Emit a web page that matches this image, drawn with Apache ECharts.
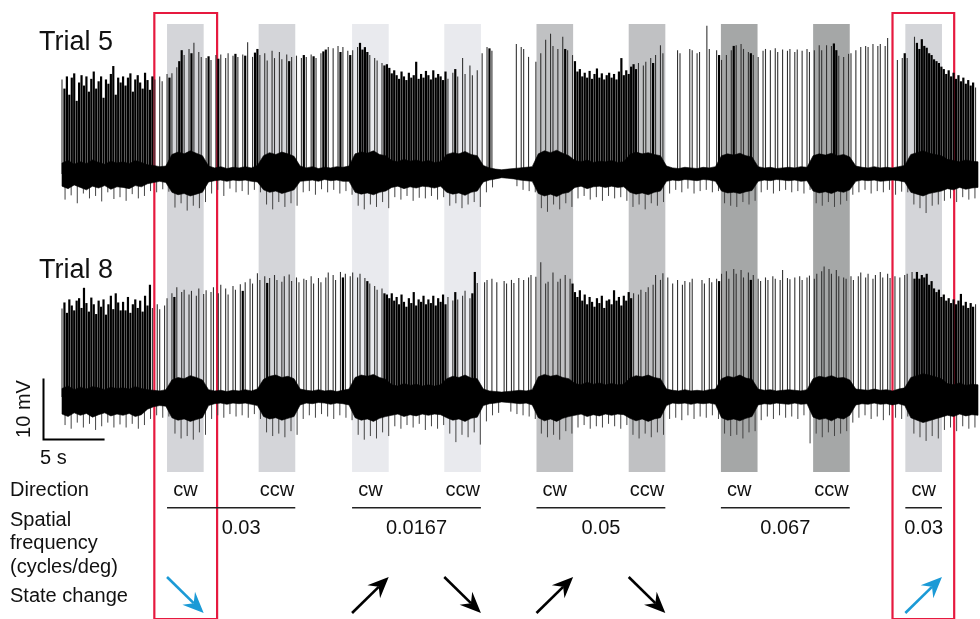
<!DOCTYPE html>
<html><head><meta charset="utf-8">
<script src="https://cdn.jsdelivr.net/npm/echarts@6/dist/echarts.min.js"></script>
<style>html,body{margin:0;padding:0;background:#fff}#c{width:980px;height:619px}</style>
</head><body><div id="c"></div>
<script>
// ---------------- DATA ----------------
// Spike peaks (mV above baseline) on a 0.2 s grid, 0 = no spike; 75 s record
const SPIKE_DT = 0.2;
const trial5Peaks = [
15.5,14,16,13,15.8,16.5,12,15,16.2,14.5,16,13.5,15.6,16.8,14,15.2,16,12.5,15.5,14.8,16.4,17.7,13,15.8,15,
16,14.5,15.8,16.5,13.5,15.5,16.2,15,14,16.6,15.4,13.8,16,15.5,0,16,15.2,0,16.4,15.8,16.5,0,17.5,18.5,20.3,
19.5,0,20.5,19.8,21.5,0,20,19.2,0,19,19.3,18.7,0,19.5,18.9,19.6,0,19,19.8,0,19.4,19.7,19.2,0,19.6,
19.4,21.6,0,19.2,19.9,20.5,19.5,0,19.8,18.6,0,20.2,19,0,20,18.8,0,19.6,18.5,19.2,0,19.4,0,19,19.5,
19.2,0,19.6,19.3,19,0,19.8,20.1,20.4,20.8,0,20.6,0,21,20,20.8,0,20.2,19.5,20.3,0,20.8,21.5,20.4,20.8,
20,19.5,0,19,18.6,0,18.2,17.8,18,17.4,16.5,17,16.2,15.6,16.8,16,15.4,16.6,15.8,16.2,18.4,15.6,16.4,15.8,16.9,
16.2,15.5,17,15.8,16.4,16,15.4,16.8,15.6,0,16.6,17.2,16,0,19,16.4,0,17.8,16.2,0,17,0,19.8,0,20.8,
20.6,20.2,0,0,0,0,0,0,0,0,0,21.3,0,20.8,20.5,0,19.2,0,0,18.4,0,19.8,0,22,0,
23,21,0,20.5,0,22.5,20.5,20.3,0,19.5,18.5,16.8,17.2,16,16.6,15.8,16.9,15.6,16.4,17.3,15.8,16.5,15.5,16.2,16.6,
15.8,16.4,15.5,16.8,19,16.2,17,16.4,17.6,18,17.2,18.2,0,17.8,18.4,0,19,18.2,19.5,0,21.1,19.8,0,0,0,
0,0,20.3,19.8,0,0,0,20.5,20.3,0,19.8,20,0,0,24.3,20.5,0,0,20.3,19.5,18.7,0,19.5,0,20.3,
21,21.1,0,21.3,20.5,0,20,19.8,19.5,0,19.2,0,20.2,20.5,0,20.3,0,20.6,20,0,20.4,0,20.2,20.5,0,
20,20.4,0,20.2,0,20.5,20,0,20.3,0,21.1,20.3,0,21.1,0,21,21.4,20.3,19.4,0,19.2,0,19.7,19.8,0,
20.3,0,20.8,0,21,20.8,0,21.3,0,21,21.3,0,21,22.3,0,0,0,18.7,0,19,19.8,19,0,0,22.5,
21.5,20.5,22.1,21,20.7,19.8,19.5,18.8,18.5,18.2,17.6,17.2,16.4,17,16,16.6,15.6,16.2,15.2,15.8,14.8,15.4,14.5,15,14.2
];
const trial8Peaks = [
14.5,15.5,13.8,16,15,14.2,15.8,16.2,14.6,17.9,15.4,14,16.3,15.2,13.6,15.8,14.8,16,13.5,15.2,16.6,14.4,17,15.5,14.2,
15.6,14.2,16.4,13.8,15.2,16,14.6,15.8,14,16.6,15,18.4,14.6,0,15.2,14.4,0,15,16.2,0,17,16.4,18,0,17.2,
17.6,0,16.8,17.4,0,16.6,17.8,0,16.9,17.5,0,17.2,18,0,17,18.4,0,17.8,16.8,0,18.2,17.6,0,18.5,17.4,
18.8,0,19.4,18.6,0,20.3,19.2,0,19.8,18.7,19.5,0,20,19.2,0,18.9,19.8,0,20.1,19,0,19.6,18.8,0,19.4,
19.2,0,19.8,18.6,0,19.5,18.8,0,19.6,20.4,0,20,19.2,0,20.5,19.6,20.2,0,19.8,20.4,0,19.6,20.2,0,19.5,
19,18.6,0,18.2,17.6,0,17.8,17,16.8,16.2,17,15.8,16.4,15.2,16.8,15.6,14.8,16.2,15.4,17.2,15,16,15.6,16.6,15.2,
16,15.4,16.6,15,16.2,15.6,16.8,15.2,16.4,0,15.8,17.2,16,0,16.6,17.4,0,16.2,17,20.5,18.7,0,0,18.8,19.2,
0,19.4,0,18.8,0,0,19,18.6,0,19.2,18.7,0,19.5,0,19.2,0,19.6,20,0,19.7,0,22.1,0,18.6,18.9,
0,20.4,0,18.9,19.4,0,20,0,19.4,18.6,17.2,16.4,17.5,15.8,16.8,15.2,16.4,15.6,14.8,16.2,15.4,16.6,14.6,15.8,16,
15.2,17.5,15.8,16.4,15,16.6,15.8,17.2,16.2,17,0,16.8,17.6,0,17.2,18,0,18.4,20,0,19.2,20.3,0,19.6,0,
18.6,0,19.2,0,18.4,19,0,18.8,19.4,0,0,0,19.2,18.6,0,19.5,18.8,0,19.4,19,20.2,0,20.6,19.4,0,
21,20.2,0,20.8,19.6,0,20.4,19.2,20,0,19.4,19,0,19.6,19.2,0,19.8,19.4,0,19.2,20.8,0,19.5,19.3,0,
19.6,0,19.8,19.2,0,19.6,19.9,0,19.4,20.2,0,20.6,21.4,0,21,20.2,0,20.8,19.8,0,19.6,19.4,0,19.8,19.2,
0,19.8,20.4,0,19.6,20.2,0,19.4,20,0,20.5,19.6,0,20.2,19.5,0,19.8,0,19.6,0,20,20.2,0,20.5,19.4,
20.5,19.4,20,19.6,20.2,18.4,19,17.8,17.2,17.6,16.4,16.8,15.8,16.2,15.4,16,15.2,15.8,16.9,15,15.6,14.6,15.4,14.8,15.2
];

// Noise band envelope (mV) on a 0.5 s grid, t = 0 .. 75
const BAND_DT = 0.5;
const trial5BandHi = [
1.8,2.2,1.6,2.0,1.7,2.3,1.9,1.6,2.1,1.8,
2.0,1.7,2.2,1.9,1.5,1.4,1.2,1.3,3.2,3.6,
3.3,3.8,3.4,3.0,1.3,1.0,1.2,0.9,1.1,1.0,
1.2,1.0,1.4,3.0,3.5,3.2,3.6,3.3,2.9,1.3,
1.0,1.2,0.9,1.1,1.0,1.2,1.1,1.3,3.3,3.6,
3.4,3.8,3.2,3.0,2.2,2.0,2.4,2.1,2.3,2.0,
2.2,1.9,2.0,3.2,3.5,3.3,3.7,3.2,3.0,1.4,
1.0,0.8,0.7,0.8,0.9,1.0,1.1,1.2,3.3,3.8,
3.5,3.9,3.4,3.0,2.2,2.0,2.3,1.9,2.1,2.0,
2.2,1.9,2.0,3.2,3.6,3.3,3.5,3.2,3.0,1.3,
1.0,0.9,1.1,1.0,0.9,1.1,1.0,1.2,3.0,3.3,
3.1,3.4,3.0,2.8,1.2,1.0,1.1,0.9,1.0,1.1,
1.0,1.2,1.1,3.0,3.3,3.1,3.4,3.0,3.2,2.8,
1.3,1.1,1.0,1.2,1.0,1.1,1.0,1.2,1.4,3.2,
3.5,3.8,3.4,3.2,3.0,2.4,2.2,2.0,2.3,2.1,
2.0
];
const trial5BandLo = [
-2.0,-2.4,-1.8,-2.2,-2.6,-2.0,-2.3,-1.9,-2.5,-2.1,
-2.2,-2.4,-1.9,-2.1,-1.6,-1.4,-1.2,-1.4,-3.0,-3.4,
-3.2,-3.6,-3.3,-3.0,-1.3,-1.1,-1.0,-1.2,-1.0,-1.1,
-1.0,-1.2,-1.3,-2.6,-3.0,-2.8,-3.2,-2.9,-2.6,-1.2,
-1.1,-1.0,-1.2,-0.9,-1.1,-1.0,-1.2,-1.2,-3.0,-3.3,
-3.1,-3.4,-3.0,-2.8,-2.2,-2.0,-2.4,-2.1,-2.3,-2.0,
-2.1,-2.3,-2.0,-3.0,-3.3,-3.1,-3.5,-3.0,-2.8,-1.3,
-1.0,-0.8,-0.6,-0.7,-0.8,-1.0,-1.1,-1.2,-3.2,-3.6,
-3.3,-3.7,-3.2,-3.0,-2.2,-2.0,-2.4,-2.1,-2.0,-2.2,
-2.0,-2.2,-2.1,-3.0,-3.3,-3.1,-3.4,-3.0,-2.8,-1.2,
-1.0,-1.1,-0.9,-1.0,-1.1,-0.9,-1.0,-1.2,-2.8,-3.1,
-3.0,-3.2,-2.9,-2.7,-1.2,-1.0,-1.1,-0.9,-1.0,-1.1,
-1.0,-1.2,-1.1,-2.8,-3.1,-2.9,-3.2,-2.8,-3.0,-2.6,
-1.2,-1.0,-1.1,-1.0,-1.2,-1.1,-1.0,-1.1,-1.3,-3.0,
-3.3,-3.6,-3.2,-3.0,-2.8,-2.4,-2.6,-2.2,-2.5,-2.3,
-2.2
];
const trial8BandHi = [
1.4,1.8,1.2,1.6,1.3,1.7,1.5,1.2,1.6,1.4,
1.5,1.3,1.7,1.4,1.2,1.1,1.0,1.2,2.8,3.2,
3.0,3.5,3.2,2.8,1.2,1.0,1.1,0.9,1.1,1.0,
1.2,1.0,1.3,2.9,3.4,3.6,3.2,3.4,3.0,1.3,
1.1,1.0,1.2,1.0,1.1,0.9,1.1,1.3,3.2,3.6,
3.4,3.7,3.2,2.9,2.0,1.8,2.2,1.9,2.1,1.8,
2.0,1.8,2.0,3.0,3.4,3.2,3.6,3.1,3.0,1.3,
1.0,0.9,0.8,0.9,1.0,1.1,1.0,1.2,3.3,3.7,
3.4,3.6,3.2,3.0,2.2,2.0,2.4,2.1,2.3,2.0,
2.2,2.0,2.1,3.1,3.5,3.3,3.6,3.2,3.0,1.3,
1.1,1.0,1.2,1.0,1.1,1.0,1.2,1.3,3.0,3.4,
3.2,3.6,3.1,2.9,1.3,1.1,1.2,1.0,1.1,1.2,
1.1,1.0,1.2,3.0,3.4,3.2,3.5,3.1,3.2,2.8,
1.3,1.2,1.1,1.3,1.1,1.2,1.0,1.3,1.5,3.2,
3.5,3.8,3.6,3.3,3.0,2.2,2.0,2.3,1.9,2.1,
2.0
];
const trial8BandLo = [
-2.8,-3.2,-2.6,-3.0,-2.7,-3.3,-2.9,-2.6,-3.1,-2.8,
-3.0,-2.7,-3.2,-2.9,-2.0,-1.6,-1.4,-1.5,-3.4,-3.8,
-3.6,-4.0,-3.7,-3.4,-1.4,-1.1,-1.0,-1.2,-1.0,-1.1,
-1.0,-1.2,-1.4,-3.2,-3.6,-3.4,-3.8,-3.5,-3.2,-1.3,
-1.0,-1.1,-0.9,-1.0,-1.2,-1.0,-1.1,-1.3,-3.4,-3.8,
-3.6,-4.0,-3.5,-3.2,-3.0,-2.8,-3.2,-2.9,-3.1,-2.8,
-3.0,-2.8,-2.9,-3.4,-3.8,-3.6,-4.0,-3.5,-3.3,-1.4,
-1.1,-1.0,-0.8,-0.9,-1.0,-1.1,-1.0,-1.3,-3.4,-3.9,
-3.6,-4.0,-3.5,-3.2,-3.0,-2.8,-3.2,-2.9,-3.1,-2.8,
-3.0,-2.8,-2.9,-3.5,-3.9,-3.6,-4.0,-3.6,-3.4,-1.4,
-1.0,-1.1,-1.0,-1.2,-1.0,-1.1,-1.0,-1.2,-3.4,-3.8,
-3.6,-3.9,-3.5,-3.2,-1.3,-1.1,-1.2,-1.0,-1.1,-1.2,
-1.0,-1.2,-1.1,-3.3,-3.7,-3.5,-3.9,-3.4,-3.6,-3.0,
-1.3,-1.1,-1.2,-1.0,-1.2,-1.1,-1.3,-1.1,-1.4,-3.4,
-3.8,-4.2,-3.9,-3.6,-3.3,-3.0,-3.2,-2.8,-3.1,-2.9,
-3.0
];

// Downward deflection tips (mV) on a 0.5 s grid starting at 0.25 s, 0 = none
const TROUGH_T0 = 0.25;
const trial5Troughs = [
-4.2,-3.5,-4.8,-3.2,-4.0,-3.6,-4.5,-3.0,-4.1,-3.8,
-4.4,-3.3,-4.0,-3.6,-2.8,-3.0,-2.5,-2.9,-5.5,-4.8,
-6.0,-5.2,-5.6,-4.6,-3.2,-2.6,-3.6,-2.4,-3.0,-2.8,
-3.4,-2.6,-3.0,-5.0,-5.8,-4.6,-5.4,-4.8,-5.2,-3.0,
-2.8,-3.4,-2.5,-3.0,-2.6,-3.2,-2.8,-3.4,-5.2,-5.8,
-5.0,-5.4,-4.6,-5.6,-3.8,-4.2,-3.6,-4.4,-3.9,-4.0,
-3.6,-4.2,-3.8,-5.2,-4.8,-5.6,-5.0,-4.6,-5.4,-3.0,
-2.2,0,0,0,-2.0,-2.6,-2.8,-3.0,-5.6,-6.2,
-5.0,-5.8,-4.8,-5.4,-4.0,-3.6,-4.2,-3.8,-4.4,-3.6,
-4.0,-3.8,-4.4,-5.4,-5.0,-5.8,-4.8,-5.2,-4.6,-3.2,
-2.6,-3.0,-2.4,-3.2,-2.8,-2.6,-3.0,-2.8,-4.8,-5.2,
-5.4,-4.6,-5.0,-4.4,-3.0,-2.6,-3.2,-2.8,-2.6,-3.0,
-2.8,-3.2,-2.6,-4.8,-5.2,-4.6,-5.4,-5.0,-4.4,-3.4,
-3.0,-2.6,-3.2,-2.8,-3.0,-2.6,-3.4,-2.9,-3.0,-5.0,
-5.6,-6.4,-5.2,-5.0,-4.4,-4.0,-4.6,-3.8,-4.2,-4.0
];
const trial8Troughs = [
-4.6,-5.2,-4.2,-5.0,-4.4,-5.4,-4.8,-4.2,-5.0,-4.5,
-5.0,-4.4,-5.2,-4.6,-3.6,-3.0,-3.4,-3.2,-6.0,-6.8,
-6.4,-7.0,-5.8,-6.2,-3.6,-3.0,-3.4,-2.8,-3.2,-3.0,
-3.4,-2.8,-3.6,-5.8,-6.4,-6.0,-6.6,-5.6,-6.2,-3.6,
-3.0,-3.4,-2.8,-3.2,-3.6,-3.0,-3.4,-3.8,-6.2,-7.0,
-6.4,-6.8,-5.8,-6.4,-4.8,-5.2,-4.6,-5.0,-4.4,-5.4,
-4.8,-5.2,-4.6,-6.0,-7.4,-6.2,-6.6,-5.8,-7.8,-4.0,
-3.0,-2.6,0,-2.4,-2.8,-3.0,-3.2,-3.6,-6.0,-6.6,
-6.2,-7.0,-5.6,-6.0,-5.0,-4.6,-5.2,-4.8,-5.0,-4.4,
-4.8,-5.2,-4.6,-6.2,-6.8,-6.0,-6.6,-5.8,-6.2,-3.6,
-3.4,-3.8,-3.0,-3.6,-3.2,-3.4,-3.0,-3.6,-6.0,-6.4,
-6.2,-6.8,-5.8,-5.6,-3.8,-3.2,-3.6,-3.0,-3.4,-3.2,
-3.6,-3.0,-7.6,-6.0,-6.6,-5.8,-6.4,-6.0,-5.6,-4.2,
-3.4,-3.0,-3.6,-3.2,-3.8,-3.0,-3.4,-3.6,-3.2,-6.0,
-6.6,-7.2,-6.4,-6.8,-5.4,-5.0,-5.6,-4.8,-5.2,-5.0
];

// Visual stimuli
const stimStart = [8.6, 16.1, 23.75, 31.3, 38.85, 46.4, 53.95, 61.5, 69.05]; // s
const STIM_DUR = 3; // s
const stimDir = ['cw','ccw','cw','ccw','cw','ccw','cw','ccw','cw'];
const stimFreq = [0.03, 0.03, 0.0167, 0.0167, 0.05, 0.05, 0.067, 0.067, 0.03];
const stateChange = ['down', null, 'up', 'down', 'up', 'down', null, null, 'up'];
const highlightStims = [0, 8];
const highlightWindows = [[7.56, 12.7], [68.0, 73.05]]; // s
const traceNames = ['Trial 5', 'Trial 8'];
const scaleBar = {t0: -1.515, v0: -6.97, dt: 5, dv: 10, tLabel: '5 s', vLabel: '10 mV'};

// ---------------- STYLE ----------------
const FONT = "'Liberation Sans', Arial, Helvetica, sans-serif";
const FREQ_SHADE = {0.03: '#d4d5d9', 0.0167: '#e9eaee', 0.05: '#c0c1c3', 0.067: '#a5a7a7'};
const RED = '#e6193f', BLUE = '#1b9ad6', INK = '#111';
const ROW_Y = {direction: 490, underline: 507.7, freq: 528, arrowTop: 577, arrowBottom: 613};
const FREQ_LABEL_DX = [10, 0, 0, 0, 0];
const SPIKE_STYLE = {dense: {stroke: '#000', lineWidth: 2.2}, sparse: {stroke: '#333', lineWidth: 1.1}};
const TROUGH_STYLE = {stroke: '#444', lineWidth: 1};

const GRID_LEFT = 62 - 5 * 916 / 75;
const gridBase = {left: GRID_LEFT, right: 2};
const grids = [
  Object.assign({top: 21.5, height: 305}, gridBase),   // trial 5
  Object.assign({top: 244.5, height: 305}, gridBase),  // trial 8
  Object.assign({top: 24, height: 448}, gridBase),     // stimulus shading
  Object.assign({top: 13, height: 640}, gridBase),     // highlight windows
  Object.assign({top: 0, height: 619}, gridBase)       // annotation rows
];
const xAxes = grids.map((g, i) => ({type: 'value', gridIndex: i, min: -5, max: 75, show: false}));
const yAxes = [
  {type: 'value', gridIndex: 0, min: -25, max: 25, show: false},
  {type: 'value', gridIndex: 1, min: -25, max: 25, show: false},
  {type: 'value', gridIndex: 2, min: 0, max: 1, show: false},
  {type: 'value', gridIndex: 3, min: 0, max: 1, show: false},
  {type: 'value', gridIndex: 4, min: 0, max: 619, inverse: true, show: false}
];

function vLineSeries(g, data, styleFn) {
  return {
    type: 'custom', xAxisIndex: g, yAxisIndex: g, z: 3, silent: true, data: data,
    renderItem(params, api) {
      const t = api.value(0), v = api.value(1);
      const a = api.coord([t, 0]), b = api.coord([t, v]);
      return {type: 'line', shape: {x1: a[0], y1: a[1], x2: b[0], y2: b[1]}, style: styleFn(api.value(2))};
    }
  };
}
const spikeStyle = dense => dense ? SPIKE_STYLE.dense : SPIKE_STYLE.sparse;
const troughStyle = () => TROUGH_STYLE;
function bandSeries(g, hi, lo) {
  return {
    type: 'custom', xAxisIndex: g, yAxisIndex: g, z: 3, silent: true, data: [[0, 0]],
    renderItem(params, api) {
      const pts = [];
      for (let k = 0; k < hi.length; k++) pts.push(api.coord([k * BAND_DT, hi[k]]));
      for (let k = lo.length - 1; k >= 0; k--) pts.push(api.coord([k * BAND_DT, lo[k]]));
      return {type: 'polygon', shape: {points: pts}, style: {fill: '#000', stroke: '#000', lineWidth: 0.6}};
    }
  };
}
// a spike is drawn "dense" when both neighbours on the grid also carry spikes
const peaksData = p => p.map((v, i) => [i * SPIKE_DT, v, (p[i - 1] > 0 && p[i + 1] > 0) ? 1 : 0]).filter(d => d[1] !== 0);
const troughData = p => p.map((v, i) => [TROUGH_T0 + i * BAND_DT, v, 0]).filter(d => d[1] !== 0);

// frequency groups (consecutive equal freq)
const freqGroups = [];
stimFreq.forEach((f, i) => {
  const last = freqGroups[freqGroups.length - 1];
  if (last && last.f === f && i === last.end + 1) last.end = i;
  else freqGroups.push({f: f, start: i, end: i});
});

const series = [
  // stimulus shading
  {type: 'line', xAxisIndex: 2, yAxisIndex: 2, data: [], z: 1, silent: true,
   markArea: {silent: true, label: {show: false},
     data: stimStart.map((s, i) => [{xAxis: s, itemStyle: {color: FREQ_SHADE[stimFreq[i]]}}, {xAxis: s + STIM_DUR}])}},
  vLineSeries(0, peaksData(trial5Peaks), spikeStyle),
  vLineSeries(0, troughData(trial5Troughs), troughStyle),
  bandSeries(0, trial5BandHi, trial5BandLo),
  vLineSeries(1, peaksData(trial8Peaks), spikeStyle),
  vLineSeries(1, troughData(trial8Troughs), troughStyle),
  bandSeries(1, trial8BandHi, trial8BandLo),
  // scale bar
  {type: 'custom', xAxisIndex: 1, yAxisIndex: 1, z: 3, silent: true, data: [[scaleBar.t0, scaleBar.v0]],
   renderItem(params, api) {
     const p1 = api.coord([scaleBar.t0, scaleBar.v0 + scaleBar.dv]);
     const p0 = api.coord([scaleBar.t0, scaleBar.v0]);
     const p2 = api.coord([scaleBar.t0 + scaleBar.dt, scaleBar.v0]);
     return {type: 'group', children: [
       {type: 'polyline', shape: {points: [p1, p0, p2]}, style: {stroke: '#000', lineWidth: 2, fill: null}},
       {type: 'text', x: p1[0] - 19.5, y: (p1[1] + p0[1]) / 2, rotation: Math.PI / 2,
        style: {text: scaleBar.vLabel, font: '20px ' + FONT, fill: INK, align: 'center', verticalAlign: 'middle'}},
       {type: 'text', x: p0[0] - 3.5, y: p0[1] + 19, style: {text: scaleBar.tLabel, font: '20px ' + FONT, fill: INK, align: 'left', verticalAlign: 'middle'}}
     ]};
   }},
  // highlight windows
  {type: 'line', xAxisIndex: 3, yAxisIndex: 3, data: [], z: 6, silent: true,
   markArea: {silent: true, label: {show: false},
     itemStyle: {color: 'rgba(0,0,0,0)', borderColor: RED, borderWidth: 2.2},
     data: highlightWindows.map(w => [{xAxis: w[0]}, {xAxis: w[1]}])}},
  // direction labels
  {type: 'custom', xAxisIndex: 4, yAxisIndex: 4, z: 4, silent: true, data: stimStart.map((s, i) => [s, i]),
   renderItem(params, api) {
     const i = params.dataIndex;
     const c = api.coord([stimStart[i] + STIM_DUR / 2, ROW_Y.direction]);
     return {type: 'text', x: c[0], y: c[1], style: {text: stimDir[i], font: '20px ' + FONT, fill: INK, align: 'center', verticalAlign: 'middle'}};
   }},
  // frequency underlines + labels
  {type: 'custom', xAxisIndex: 4, yAxisIndex: 4, z: 4, silent: true, data: freqGroups.map((g, i) => [stimStart[g.start], i]),
   renderItem(params, api) {
     const g = freqGroups[params.dataIndex];
     const a = api.coord([stimStart[g.start], ROW_Y.underline]);
     const b = api.coord([stimStart[g.end] + STIM_DUR, ROW_Y.underline]);
     const c = api.coord([(stimStart[g.start] + stimStart[g.end] + STIM_DUR) / 2, ROW_Y.freq]);
     return {type: 'group', children: [
       {type: 'line', shape: {x1: a[0], y1: a[1], x2: b[0], y2: b[1]}, style: {stroke: '#222', lineWidth: 1.5}},
       {type: 'text', x: c[0] + FREQ_LABEL_DX[params.dataIndex], y: c[1], style: {text: String(g.f), font: '20px ' + FONT, fill: INK, align: 'center', verticalAlign: 'middle'}}
     ]};
   }},
  // state change arrows
  {type: 'custom', xAxisIndex: 4, yAxisIndex: 4, z: 4, silent: true,
   data: stateChange.map((s, i) => [stimStart[i], i]).filter(d => stateChange[d[1]]),
   renderItem(params, api) {
     const i = api.value(1);
     const s = stimStart[i], e = s + STIM_DUR;
     const up = stateChange[i] === 'up';
     const tail = api.coord([s, up ? ROW_Y.arrowBottom : ROW_Y.arrowTop]);
     const tip = api.coord([e, up ? ROW_Y.arrowTop : ROW_Y.arrowBottom]);
     const dx = tip[0] - tail[0], dy = tip[1] - tail[1], len = Math.hypot(dx, dy);
     const ux = dx / len, uy = dy / len, nx = -uy, ny = ux;
     const L = 21, W = 9, N = 7;
     const bx = tip[0] - ux * L, by = tip[1] - uy * L;
     const cx = tip[0] - ux * (L - N), cy = tip[1] - uy * (L - N);
     const col = highlightStims.indexOf(i) >= 0 ? BLUE : '#000';
     return {type: 'group', children: [
       {type: 'line', shape: {x1: tail[0], y1: tail[1], x2: cx, y2: cy}, style: {stroke: col, lineWidth: 2.6}},
       {type: 'polygon', shape: {points: [[tip[0], tip[1]], [bx + nx * W, by + ny * W], [cx, cy], [bx - nx * W, by - ny * W]]}, style: {fill: col}}
     ]};
   }}
];

const txt = (x, y, text, size) => ({type: 'text', x: x, y: y, silent: true,
  style: {text: text, font: size + 'px ' + FONT, fill: INK, align: 'left', verticalAlign: 'middle'}});

const option = {
  animation: false,
  backgroundColor: '#fff',
  grid: grids, xAxis: xAxes, yAxis: yAxes,
  series: series,
  graphic: [
    txt(39, 43, traceNames[0], 27),
    txt(39, 271, traceNames[1], 27),
    txt(10, 490, 'Direction', 20),
    txt(10, 520, 'Spatial', 20),
    txt(10, 543.7, 'frequency', 20),
    txt(10, 567.5, '(cycles/deg)', 20),
    txt(10, 596.3, 'State change', 20)
  ]
};
const chart = echarts.init(document.getElementById('c'), null, {renderer: 'canvas', width: 980, height: 619});
chart.setOption(option);
</script>
</body></html>
